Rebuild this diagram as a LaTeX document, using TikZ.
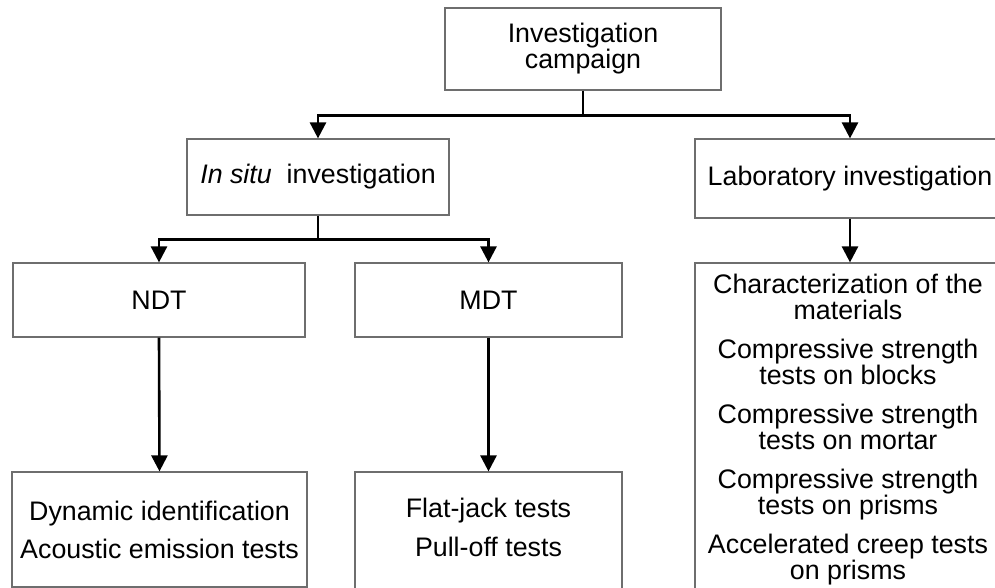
\documentclass[tikz,border=0pt]{standalone}
\usepackage{fontspec}
\setmainfont{Liberation Sans}
\usetikzlibrary{arrows.meta,calc}
\definecolor{boxgray}{RGB}{110,110,110}
\newcommand{\bigtxt}{\fontsize{26.8}{26}\selectfont}
\begin{document}
\begin{tikzpicture}[x=1pt,y=-1pt,
  box/.style={draw=boxgray,line width=1.2pt,rectangle,inner sep=0pt,align=center,font=\bigtxt},
  txt/.style={align=center,font=\bigtxt,inner sep=0pt},
  conn/.style={line width=2.6pt,draw=black},
  arr/.style={conn,-{Triangle[width=16pt,length=16pt]}}]
\clip (0,0) rectangle (995,588);
% boxes
\node[box,minimum width=276pt,minimum height=82pt] (top) at (583,49) {Investigation\\campaign};
\node[box,minimum width=262pt,minimum height=76pt] (insitu) at (318,177) {\textit{In situ}\ \ investigation};
\node[box,minimum width=310pt,minimum height=79pt] (lab) at (850,178.5) {Laboratory investigation};
\node[box,minimum width=292pt,minimum height=74pt] (ndt) at (159,300) {NDT};
\node[box,minimum width=267pt,minimum height=74pt] (mdt) at (488.5,300) {MDT};
\node[box,minimum width=295pt,minimum height=115pt] (dyn) at (159.5,529.5) {Dynamic identification\\[12pt]Acoustic emission tests};
\node[box,minimum width=267pt,minimum height=128pt] (flat) at (488.5,536) {};
\node[txt] (flattxt) at (488.5,527) {Flat-jack tests\\[13pt]Pull-off tests};
\node[box,minimum width=310pt,minimum height=357pt] (list) at (850,441.5) {};
\node[txt,anchor=north] (listtxt) at (848,274) {Characterization of the\\materials\\[13pt]Compressive strength\\tests on blocks\\[13pt]Compressive strength\\tests on mortar\\[13pt]Compressive strength\\tests on prisms\\[13pt]Accelerated creep tests\\on prisms};
% connectors
\draw[conn] (top.south) -- ++(0,25) coordinate (tb);
\draw[arr] (tb) -| (insitu.north);
\draw[arr] (tb) -| (lab.north);
\draw[conn] (insitu.south) -- ++(0,24) coordinate (ib);
\draw[arr] (ib) -| (ndt.north);
\draw[arr] (ib) -| (mdt.north);
\draw[arr] (lab.south) -- (list.north);
\draw[arr] (ndt.south) -- (dyn.north);
\draw[arr] (mdt.south) -- (flat.north);
\end{tikzpicture}
\end{document}
